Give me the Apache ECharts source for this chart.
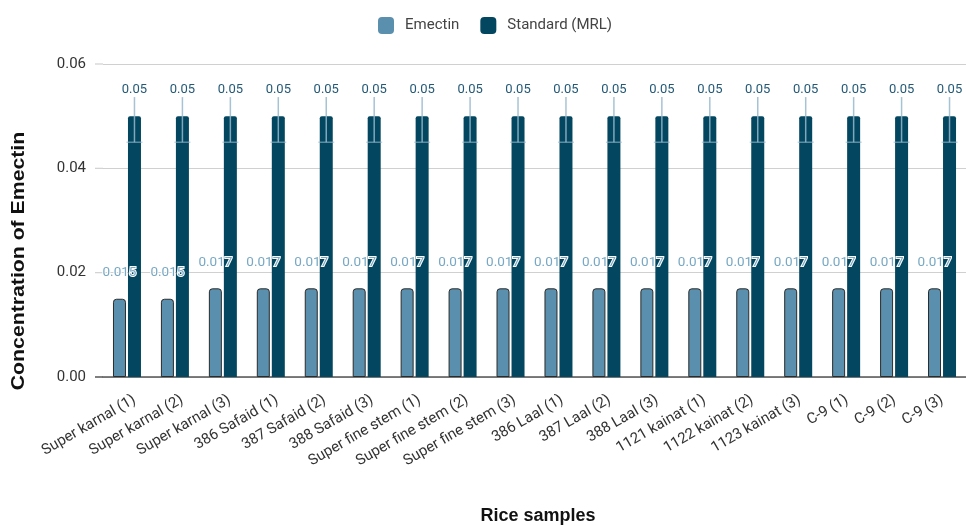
<!DOCTYPE html>
<html>
<head>
<meta charset="utf-8">
<script src="https://cdn.jsdelivr.net/npm/echarts@6/dist/echarts.min.js"></script>
<style>
  html, body { margin: 0; padding: 0; background: #fff; }
  #chart { width: 966px; height: 526px; }
</style>
</head>
<body>
<div id="chart"></div>
<script>
// Rice sample names along the x axis
const categories = [
  'Super karnal (1)', 'Super karnal (2)', 'Super karnal (3)',
  '386 Safaid (1)', '387 Safaid (2)', '388 Safaid (3)',
  'Super fine stem (1)', 'Super fine stem (2)', 'Super fine stem (3)',
  '386 Laal (1)', '387 Laal (2)', '388 Laal (3)',
  '1121 kainat (1)', '1122 kainat (2)', '1123 kainat (3)',
  'C-9 (1)', 'C-9 (2)', 'C-9 (3)'
];

// Measured emectin concentration per sample
const emectin = [0.015, 0.015, 0.017, 0.017, 0.017, 0.017, 0.017, 0.017, 0.017,
                 0.017, 0.017, 0.017, 0.017, 0.017, 0.017, 0.017, 0.017, 0.017];
// Maximum residue limit per sample
const standard = [0.05, 0.05, 0.05, 0.05, 0.05, 0.05, 0.05, 0.05, 0.05,
                  0.05, 0.05, 0.05, 0.05, 0.05, 0.05, 0.05, 0.05, 0.05];
// Error margin shown on each bar
const errorMargin = 0.005;

// Y axis ticks
const yTicks = { min: 0, max: 0.06, interval: 0.02 };

const BAR_W = 13;
const BAR_GAP = 2;
const COLOR_EMECTIN = '#5a8fad';
const COLOR_STANDARD = '#03465f';
const GRID = { left: 103, top: 64, width: 868, height: 313 };
const GRID_LINE_START = 95;

// Centre of a bar within its category band: side -1 = first series, +1 = second
function barCenterX(api, idx, side) {
  const c = api.coord([idx, 0])[0];
  return c + side * (BAR_W + BAR_GAP) / 2;
}

// Error bars (vertical whisker + lower cap) and value labels above them
function makeOverlay(values, side, withWhisker, labelColor, fontSize) {
  return {
    type: 'custom',
    silent: true,
    z: 5,
    data: values.map((v, i) => [i, v]),
    renderItem: function (params, api) {
      const i = api.value(0);
      const v = api.value(1);
      const x = barCenterX(api, i, side);
      const yTop = api.coord([i, v + errorMargin])[1];
      const yBot = api.coord([i, v - errorMargin])[1];
      const children = [];
      if (withWhisker) {
        children.push({
          type: 'line',
          shape: { x1: x, y1: yTop + 7, x2: x, y2: yBot },
          style: { stroke: 'rgba(150,185,205,0.85)', lineWidth: 1.5 }
        });
        children.push({
          type: 'line',
          shape: { x1: x - 8, y1: yBot, x2: x + 8, y2: yBot },
          style: { stroke: 'rgba(150,185,205,0.6)', lineWidth: 1.5 }
        });
      }
      children.push({
        type: 'text',
        z2: 10,
        style: {
          x: x, y: yTop,
          text: String(v),
          fill: labelColor,
          font: fontSize + 'px Roboto',
          align: 'center',
          verticalAlign: 'middle',
          stroke: '#fff',
          lineWidth: 2
        }
      });
      return { type: 'group', children: children };
    }
  };
}

const chart = echarts.init(document.getElementById('chart'), null, { renderer: 'canvas' });

chart.setOption({
  animation: false,
  backgroundColor: '#ffffff',
  textStyle: { fontFamily: 'Roboto' },
  legend: {
    top: 12,
    left: 373,
    itemWidth: 16,
    itemHeight: 17,
    itemGap: 21,
    itemStyle: { borderWidth: 0 },
    textStyle: { color: '#444', fontSize: 15, fontFamily: 'Roboto', padding: [0, 0, 0, 6] },
    data: [
      { name: 'Emectin', icon: 'roundRect' },
      { name: 'Standard (MRL)', icon: 'roundRect' }
    ]
  },
  grid: [
    Object.assign({ containLabel: false }, GRID),
    // label-only grid, nudged right so the rotated names end past their ticks
    { left: GRID.left + 8, top: GRID.top, width: GRID.width, height: GRID.height, containLabel: false }
  ],
  xAxis: [
    {
      type: 'category',
      gridIndex: 0,
      data: categories,
      axisLine: { lineStyle: { color: '#555', width: 1.5 } },
      axisTick: { show: false },
      axisLabel: { show: false }
    },
    {
      type: 'category',
      gridIndex: 1,
      data: categories,
      axisLine: { show: false },
      axisTick: { show: false },
      axisLabel: {
        rotate: 30,
        interval: 0,
        margin: 22,
        color: '#333',
        fontSize: 15,
        fontFamily: 'Roboto'
      }
    }
  ],
  yAxis: [
    {
      type: 'value',
      gridIndex: 0,
      min: yTicks.min,
      max: yTicks.max,
      interval: yTicks.interval,
      axisLine: { show: false },
      axisTick: { show: false },
      splitLine: { lineStyle: { color: '#d0d0d0', width: 1.2 } },
      axisLabel: {
        margin: 17,
        color: '#333',
        fontSize: 15,
        fontFamily: 'Roboto',
        formatter: v => v.toFixed(2)
      }
    },
    {
      type: 'value',
      gridIndex: 1,
      min: yTicks.min,
      max: yTicks.max,
      interval: yTicks.interval,
      show: false,
      splitLine: { show: false }
    }
  ],
  graphic: [
    {
      type: 'text',
      x: 19, y: 261,
      rotation: Math.PI / 2,
      scaleX: 1.18,
      style: {
        text: 'Concentration of Emectin',
        font: 'bold 18px "Liberation Sans"',
        fill: '#111',
        align: 'center',
        verticalAlign: 'middle'
      }
    },
    {
      type: 'text',
      x: 538, y: 516,
      style: {
        text: 'Rice samples',
        font: 'bold 18px "Liberation Sans"',
        fill: '#111',
        align: 'center',
        verticalAlign: 'middle'
      }
    }
  ],
  series: [
    {
      name: 'Emectin',
      type: 'bar',
      data: emectin,
      barWidth: BAR_W,
      barGap: (BAR_GAP / BAR_W * 100) + '%',
      itemStyle: {
        color: COLOR_EMECTIN,
        borderColor: '#2b2b2b',
        borderWidth: 1,
        borderRadius: [3, 3, 0, 0]
      }
    },
    {
      name: 'Standard (MRL)',
      type: 'bar',
      data: standard,
      barWidth: BAR_W,
      itemStyle: {
        color: COLOR_STANDARD,
        borderRadius: [2, 2, 0, 0]
      }
    },
    makeOverlay(emectin, -1, false, '#78a8c4', 13.5),
    makeOverlay(standard, 1, true, '#245a78', 13)
  ]
});

// Carry the horizontal grid lines a little past the left edge of the plot
const stubs = [];
for (let v = yTicks.min; v <= yTicks.max + 1e-9; v += yTicks.interval) {
  const y = chart.convertToPixel({ yAxisIndex: 0 }, v);
  const isBase = Math.abs(v - yTicks.min) < 1e-9;
  stubs.push({
    type: 'line',
    shape: { x1: GRID_LINE_START, y1: y, x2: GRID.left, y2: y },
    style: { stroke: isBase ? '#555' : '#d0d0d0', lineWidth: isBase ? 1.5 : 1.2 },
    z: 0
  });
}
chart.setOption({ graphic: chart.getOption().graphic[0].elements.concat(stubs) }, { replaceMerge: ['graphic'] });
</script>
</body>
</html>
